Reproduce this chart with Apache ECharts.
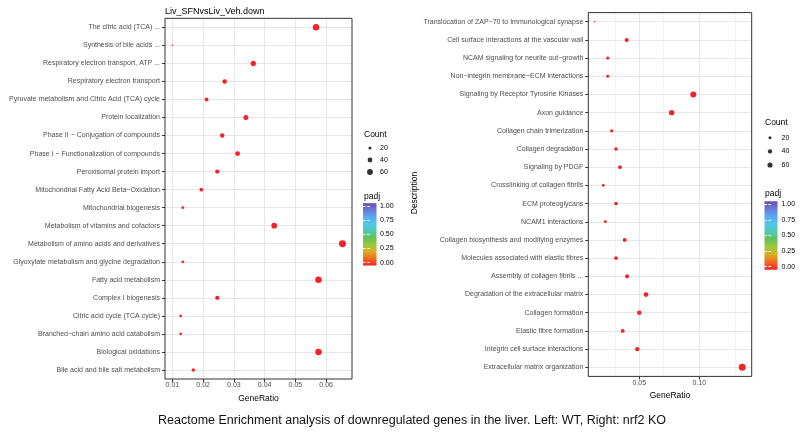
<!DOCTYPE html>
<html><head><meta charset="utf-8">
<script src="https://cdn.jsdelivr.net/npm/echarts@6/dist/echarts.min.js"></script>
<style>html,body{margin:0;padding:0;background:#fff}#c{width:800px;height:433px}</style>
</head><body><div id="c"></div>
<script>
// ---------- data ----------
const leftCategories = [
  'The citric acid (TCA) ...',
  'Synthesis of bile acids ...',
  'Respiratory electron transport, ATP ...',
  'Respiratory electron transport',
  'Pyruvate metabolism and Citric Acid (TCA) cycle',
  'Protein localization',
  'Phase II \u2212 Conjugation of compounds',
  'Phase I \u2212 Functionalization of compounds',
  'Peroxisomal protein import',
  'Mitochondrial Fatty Acid Beta\u2212Oxidation',
  'Mitochondrial biogenesis',
  'Metabolism of vitamins and cofactors',
  'Metabolism of amino acids and derivatives',
  'Glyoxylate metabolism and glycine degradation',
  'Fatty acid metabolism',
  'Complex I biogenesis',
  'Citric acid cycle (TCA cycle)',
  'Branched\u2212chain amino acid catabolism',
  'Biological oxidations',
  'Bile acid and bile salt metabolism'
];
const leftGeneRatio = [0.0567, 0.0100, 0.0363, 0.0270, 0.0211, 0.0339, 0.0262, 0.0312, 0.0246, 0.0194,
                       0.0134, 0.0431, 0.0653, 0.0134, 0.0575, 0.0246, 0.0127, 0.0127, 0.0575, 0.0168];
const leftCount = [74, 13, 47, 35, 27, 44, 34, 41, 32, 25, 17, 56, 85, 17, 75, 32, 16, 16, 75, 22];

const rightCategories = [
  'Translocation of ZAP\u221270 to Immunological synapse',
  'Cell surface interactions at the vascular wall',
  'NCAM signaling for neurite out\u2212growth',
  'Non\u2212integrin membrane\u2212ECM interactions',
  'Signaling by Receptor Tyrosine Kinases',
  'Axon guidance',
  'Collagen chain trimerization',
  'Collagen degradation',
  'Signaling by PDGF',
  'Crosslinking of collagen fibrils',
  'ECM proteoglycans',
  'NCAM1 interactions',
  'Collagen biosynthesis and modifying enzymes',
  'Molecules associated with elastic fibres',
  'Assembly of collagen fibrils ...',
  'Degradation of the extracellular matrix',
  'Collagen formation',
  'Elastic fibre formation',
  'Integrin cell surface interactions',
  'Extracellular matrix organization'
];
const rightGeneRatio = [0.0128, 0.0395, 0.0237, 0.0237, 0.0950, 0.0770, 0.0270, 0.0306, 0.0339, 0.0200,
                        0.0306, 0.0217, 0.0378, 0.0306, 0.0398, 0.0556, 0.0500, 0.0362, 0.0483, 0.1358];
const rightCount = [11, 34, 21, 21, 83, 67, 23, 27, 29, 17, 27, 19, 33, 27, 35, 48, 44, 31, 42, 118];

const countBreaks = ['20', '40', '60'];
const padjBreaks = [0, 0.25, 0.5, 0.75, 1];
const leftMajorX = [0.01, 0.02, 0.03, 0.04, 0.05, 0.06];
const leftMinorX = [0.015, 0.025, 0.035, 0.045, 0.055, 0.065];
const rightMajorX = [0.05, 0.10];
const rightMinorX = [0.025, 0.075, 0.125];

const titleText = 'Liv_SFNvsLiv_Veh.down';
const captionText = 'Reactome Enrichment analysis of downregulated genes in the liver. Left: WT, Right: nrf2 KO';

// ---------- styles ----------
const FONT = 'Liberation Sans';
const DOT = '#f5222a';
const rainbow = ['#f5222a', '#f06a1c', '#d8ae22', '#9ec83a', '#62c25a', '#52c8b0', '#4ec8ec', '#5aaaf0', '#6a7ad8', '#6a4ea8'];
const MAJ = '#e6e6e6', MIN = '#f3f3f3', BORDER = '#333333', TXT = '#4d4d4d';

function sizeScale(counts) {
  const lo = Math.min(...counts), hi = Math.max(...counts);
  return c => 1.5 + 5.4 * Math.sqrt(Math.max(0, c - lo) / (hi - lo));
}
const leftSize = sizeScale(leftCount), rightSize = sizeScale(rightCount);

const chart = echarts.init(document.getElementById('c'), null, {renderer: 'canvas'});

function plotX(gi, min, max, split, nameGap) {
  return {
    type: 'value', gridIndex: gi, min: min, max: max, splitNumber: split,
    name: 'GeneRatio', nameLocation: 'middle', nameGap: nameGap,
    nameTextStyle: {fontFamily: FONT, fontSize: 8.5, color: '#000'},
    axisLine: {show: false},
    axisTick: {show: true, length: 3, lineStyle: {color: BORDER, width: 1}},
    axisLabel: {fontFamily: FONT, fontSize: 7, color: TXT, margin: 3,
      showMinLabel: false, showMaxLabel: false,
      formatter: v => v.toFixed(2)},
    splitLine: {show: false}
  };
}
function plotY(gi, cats) {
  return {
    type: 'category', gridIndex: gi, data: cats, inverse: true,
    axisLine: {show: false},
    axisTick: {show: true, alignWithLabel: true, length: 3, lineStyle: {color: BORDER}},
    axisLabel: {fontFamily: FONT, fontSize: 7, color: TXT, margin: 5},
    splitLine: {show: false}
  };
}
function hiddenX(gi) {
  return {type: 'value', gridIndex: gi, min: -1, max: 1, show: false};
}
function legendY(gi, margin) {
  return {type: 'category', gridIndex: gi, data: countBreaks, inverse: true, position: 'right',
    axisLine: {show: false}, axisTick: {show: false}, splitLine: {show: false},
    axisLabel: {fontFamily: FONT, fontSize: 7, color: '#000', margin: margin}};
}
function cbarY(gi, margin, pos, labels) {
  return {type: 'value', gridIndex: gi, min: 0, max: 1, interval: 0.25, position: pos,
    axisLine: {show: false}, splitLine: {show: false},
    axisTick: {show: true, inside: true, length: 2.5, lineStyle: {color: '#fff', width: 1}},
    axisLabel: {show: labels, fontFamily: FONT, fontSize: 7, color: '#000', margin: margin,
      formatter: v => v.toFixed(2)}, z: 5};
}
function gridLines(xi, yi, cats, major, minor) {
  const ls = c => ({type: 'solid', color: c, width: 1});
  return {
    type: 'line', xAxisIndex: xi, yAxisIndex: yi, data: [], z: 1, silent: true,
    markLine: {
      silent: true, symbol: ['none', 'none'], label: {show: false}, animation: false,
      data: [
        ...minor.map(v => ({xAxis: v, lineStyle: ls(MIN)})),
        ...major.map(v => ({xAxis: v, lineStyle: ls(MAJ)})),
        ...cats.map(c => ({yAxis: c, lineStyle: ls(MAJ)}))
      ]
    }
  };
}
function colorbar(xi, yi) {
  return {
    type: 'custom', xAxisIndex: xi, yAxisIndex: yi, data: [[0, 0]], clip: false, silent: true, z: 2,
    renderItem: (params, api) => {
      const p0 = api.coord([-1, -0.05]);
      const p1 = api.coord([1, 1.05]);
      const stops = rainbow.map((c, i) => ({offset: i / (rainbow.length - 1), color: c}));
      return {
        type: 'rect',
        shape: {x: p0[0], y: p1[1], width: p1[0] - p0[0], height: p0[1] - p1[1]},
        style: {fill: new echarts.graphic.LinearGradient(0, 1, 0, 0, stops)}
      };
    }
  };
}

const txt = (x, y, s, size, extra) => Object.assign({
  type: 'text', x: x, y: y,
  style: {text: s, fontFamily: FONT, fontSize: size, fill: '#000', textAlign: 'left', textVerticalAlign: 'middle'}
}, extra || {});

const option = {
  animation: false,
  backgroundColor: '#fff',
  grid: [
    {left: 165, top: 18.3, width: 187, height: 360.7, show: true, borderColor: BORDER, borderWidth: 1, backgroundColor: 'transparent', z: 10},
    {left: 588.3, top: 12.6, width: 163.4, height: 363.8, show: true, borderColor: BORDER, borderWidth: 1, backgroundColor: 'transparent', z: 10},
    {left: 364, top: 142, width: 12, height: 36},
    {left: 363, top: 206, width: 13.5, height: 56.7},
    {left: 764, top: 131, width: 12, height: 40.8},
    {left: 764.5, top: 204.3, width: 13, height: 62.4}
  ],
  xAxis: [
    plotX(0, 0.0076, 0.0684, 6, 9),
    plotX(1, 0.0075, 0.1437, 3, 11),
    hiddenX(2), hiddenX(3), hiddenX(4), hiddenX(5)
  ],
  yAxis: [
    plotY(0, leftCategories),
    plotY(1, rightCategories),
    legendY(2, 4),
    cbarY(3, 3.5, 'right', true),
    legendY(4, 5.5),
    cbarY(5, 4, 'right', true),
    cbarY(3, 0, 'left', false),
    cbarY(5, 0, 'left', false)
  ],
  series: [
    gridLines(0, 0, leftCategories, leftMajorX, leftMinorX),
    gridLines(1, 1, rightCategories, rightMajorX, rightMinorX),
    {
      type: 'scatter', xAxisIndex: 0, yAxisIndex: 0, z: 5,
      data: leftCategories.map((c, i) => [leftGeneRatio[i], c, leftCount[i]]),
      symbolSize: v => leftSize(v[2]),
      itemStyle: {color: DOT, opacity: 1}
    },
    {
      type: 'scatter', xAxisIndex: 1, yAxisIndex: 1, z: 5,
      data: rightCategories.map((c, i) => [rightGeneRatio[i], c, rightCount[i]]),
      symbolSize: v => rightSize(v[2]),
      itemStyle: {color: DOT, opacity: 1}
    },
    {
      type: 'scatter', xAxisIndex: 2, yAxisIndex: 2,
      data: countBreaks.map(b => [0, b]),
      symbolSize: v => leftSize(+v[1]),
      itemStyle: {color: '#000'}
    },
    {
      type: 'scatter', xAxisIndex: 4, yAxisIndex: 4,
      data: countBreaks.map(b => [0, b]),
      symbolSize: v => rightSize(+v[1]),
      itemStyle: {color: '#000'}
    },
    colorbar(3, 3),
    colorbar(5, 5)
  ],
  graphic: [
    txt(165, 12, titleText, 9),
    txt(364, 135, 'Count', 8.5),
    txt(364, 197, 'padj', 8.5),
    txt(765, 123, 'Count', 8.5),
    txt(765, 194, 'padj', 8.5),
    txt(415, 193, 'Description', 8.5, {rotation: Math.PI / 2, style: {text: 'Description', fontFamily: FONT, fontSize: 8.5, fill: '#000', textAlign: 'center', textVerticalAlign: 'middle'}}),
    txt(412, 421, captionText, 12.5, {style: {text: captionText, fontFamily: FONT, fontSize: 12.5, fill: '#111', textAlign: 'center', textVerticalAlign: 'middle'}})
  ]
};
chart.setOption(option);
</script>
</body></html>
